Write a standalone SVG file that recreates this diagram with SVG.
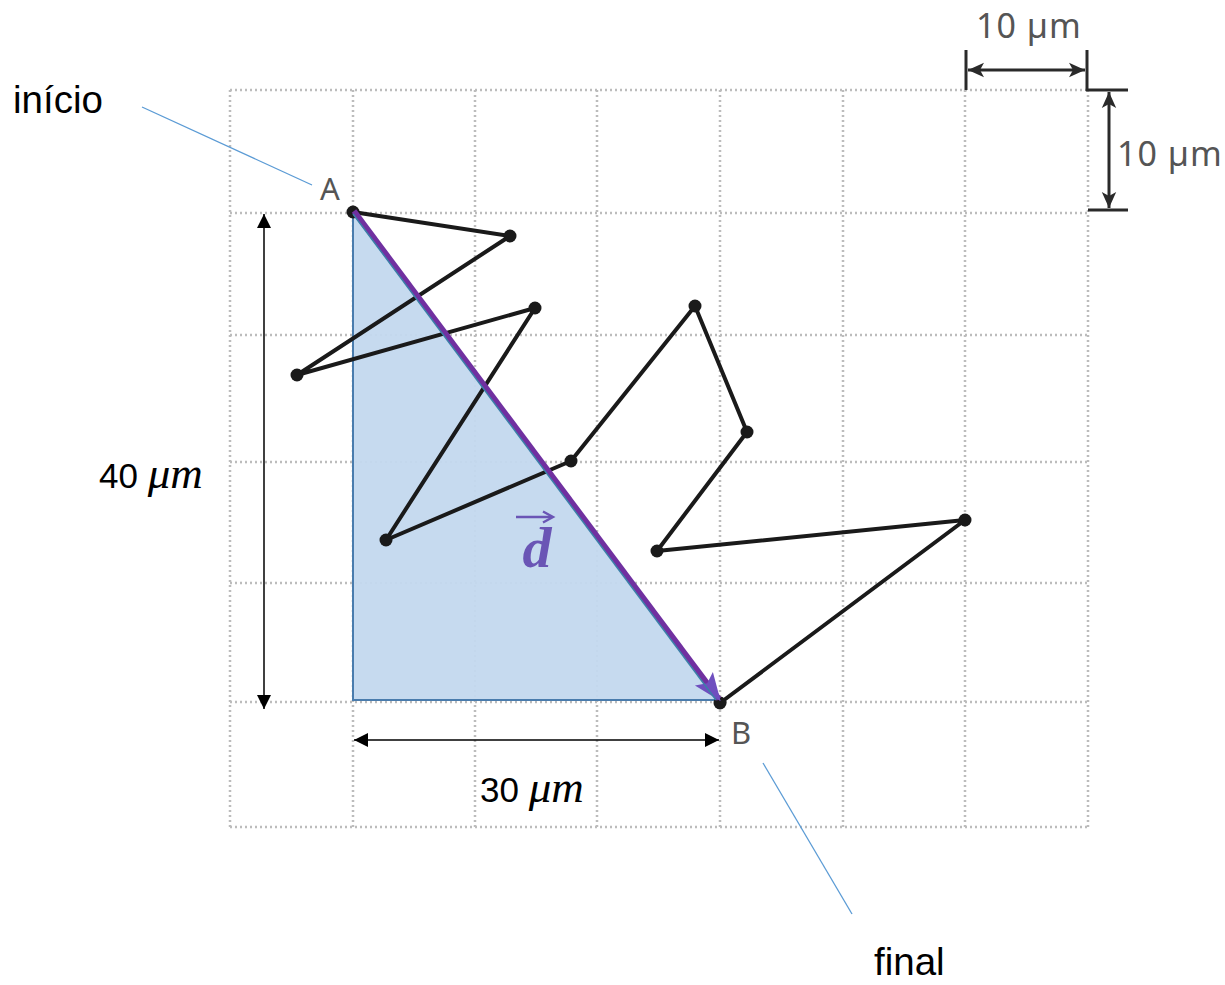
<svg xmlns="http://www.w3.org/2000/svg" width="1225" height="985" viewBox="0 0 1225 985">
<style>
.grid line{stroke:#bcbcbc;stroke-width:2.5;stroke-dasharray:2 3}
.walk{fill:none;stroke:#1a1a1a;stroke-width:4;stroke-linejoin:round;stroke-linecap:round}
.dot{fill:#1a1a1a}
.dim{stroke:#000;stroke-width:1.5;fill:none}
.gdim{stroke:#2a2a2a;stroke-width:3;fill:none}
.lead{stroke:#5b9bd5;stroke-width:1.3;fill:none}
.cal{font-family:"Liberation Sans","Open Sans",sans-serif;fill:#000}
.geo{font-family:"Noto Sans","Open Sans",sans-serif;fill:#555}
.mi{font-family:"Liberation Serif","DejaVu Serif",serif;font-style:italic}
</style>
<defs>
<marker id="ab" viewBox="0 0 10 10" refX="10" refY="5" markerWidth="14" markerHeight="14" markerUnits="userSpaceOnUse" orient="auto-start-reverse"><path d="M0,0 L10,5 L0,10 Z" fill="#000"/></marker>
<marker id="ag" viewBox="0 0 10 10" refX="10" refY="5" markerWidth="16" markerHeight="16" markerUnits="userSpaceOnUse" orient="auto-start-reverse"><path d="M0,0.5 L10,5 L0,9.5 L2.5,5 Z" fill="#2a2a2a"/></marker>
<marker id="ap" viewBox="0 0 10 10" refX="9" refY="5" markerWidth="28" markerHeight="28" markerUnits="userSpaceOnUse" orient="auto"><path d="M0,1 L10,5 L0,9 L2,5 Z" fill="#6f4fbf"/></marker>
</defs>

<g id="grid" class="grid">
<line x1="230" y1="90" x2="230" y2="827"/>
<line x1="353" y1="90" x2="353" y2="827"/>
<line x1="475" y1="90" x2="475" y2="827"/>
<line x1="597" y1="90" x2="597" y2="827"/>
<line x1="720" y1="90" x2="720" y2="827"/>
<line x1="843" y1="90" x2="843" y2="827"/>
<line x1="965" y1="90" x2="965" y2="827"/>
<line x1="1088" y1="90" x2="1088" y2="827"/>
<line x1="230" y1="90" x2="1088" y2="90"/>
<line x1="230" y1="213" x2="1088" y2="213"/>
<line x1="230" y1="335" x2="1088" y2="335"/>
<line x1="230" y1="462" x2="1088" y2="462"/>
<line x1="230" y1="583" x2="1088" y2="583"/>
<line x1="230" y1="702" x2="1088" y2="702"/>
<line x1="230" y1="827" x2="1088" y2="827"/>
</g>

<g id="triangle">
<polygon points="353,213 353,700 720,700" fill="#c3d8ee" fill-opacity="0.95" stroke="#4a7cad" stroke-width="2"/>
</g>

<g id="walk">
<polyline class="walk" points="353,212 510,236 297,375 535,308 386,540 571,461 695,306 747,432 657,551 965,520 720,703"/>
<circle class="dot" cx="353" cy="212" r="6.5"/>
<circle class="dot" cx="510" cy="236" r="6.5"/>
<circle class="dot" cx="297" cy="375" r="6.5"/>
<circle class="dot" cx="535" cy="308" r="6.5"/>
<circle class="dot" cx="386" cy="540" r="6.5" fill="#203040"/>
<circle class="dot" cx="571" cy="461" r="6.5"/>
<circle class="dot" cx="695" cy="306" r="6.5"/>
<circle class="dot" cx="747" cy="432" r="6.5"/>
<circle class="dot" cx="657" cy="551" r="6.5"/>
<circle class="dot" cx="965" cy="520" r="6.5"/>
<circle class="dot" cx="720" cy="703" r="6.5"/>
</g>

<g id="vector-d">
<line x1="354" y1="211" x2="719" y2="699" stroke="#7030a0" stroke-width="5.5" marker-end="url(#ap)"/>
<line x1="353" y1="214" x2="716" y2="700" stroke="#3b7fa8" stroke-width="1.5"/>
<text x="537" y="567" text-anchor="middle" font-family="Liberation Serif,DejaVu Serif,serif" font-style="italic" font-weight="bold" font-size="58" fill="#6a55b5">d</text>
<line x1="516" y1="517" x2="552" y2="517" stroke="#6a55b5" stroke-width="2.4"/>
<path d="M543,511.5 L553,517 L543,522.5" fill="none" stroke="#6a55b5" stroke-width="2.4"/>
</g>

<g id="connectors">
<line class="dim" x1="264" y1="214" x2="264" y2="709" marker-start="url(#ab)" marker-end="url(#ab)"/>
<line class="dim" x1="354" y1="740" x2="719" y2="740" marker-start="url(#ab)" marker-end="url(#ab)"/>
<line class="lead" x1="142" y1="107" x2="312" y2="185"/>
<line class="lead" x1="763" y1="763" x2="852" y2="914"/>
<line class="gdim" x1="966" y1="50" x2="966" y2="90"/>
<line class="gdim" x1="1087" y1="50" x2="1087" y2="91"/>
<line class="gdim" x1="1086" y1="90" x2="1128" y2="90"/>
<line class="gdim" x1="1088" y1="210" x2="1128" y2="210"/>
<line class="gdim" x1="968" y1="70" x2="1085" y2="70" marker-start="url(#ag)" marker-end="url(#ag)"/>
<line class="gdim" x1="1109" y1="92" x2="1109" y2="208" marker-start="url(#ag)" marker-end="url(#ag)"/>
</g>

<g id="labels">
<text class="geo" x="320" y="200" font-size="31">A</text>
<text class="geo" x="731" y="744" font-size="31">B</text>
<text class="geo" x="976" y="38" font-size="34" letter-spacing="1">10 µm</text>
<text class="geo" x="1117" y="166" font-size="34" letter-spacing="1">10 µm</text>
<text class="cal" x="13" y="113" font-size="38.5">início</text>
<text class="cal" x="874" y="975" font-size="38.5">final</text>
<text class="cal" x="99" y="488" font-size="35">40 <tspan class="mi" font-size="45">μm</tspan></text>
<text class="cal" x="480" y="802" font-size="35">30 <tspan class="mi" font-size="45">μm</tspan></text>
</g>
</svg>
